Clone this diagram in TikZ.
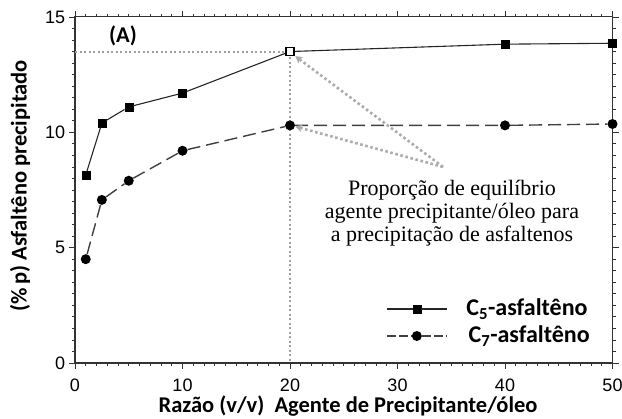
\documentclass[tikz,border=0pt]{standalone}
\usepackage{fontspec}
\setmainfont{Liberation Serif}
\setsansfont{Liberation Sans}
\newfontfamily\calibri{Carlito}
\usetikzlibrary{arrows.meta}
\tikzset{>={Stealth[scale=.8]}}
\tikzset{
  quad/.style={draw=black, fill=black, minimum size=8pt, inner sep=0pt},
  bola/.style={circle, fill=black, minimum size=10pt, inner sep=0pt},
  serie5/.style={black!85, line width=1.1pt},
  serie7/.style={black!75, line width=1.4pt, dash pattern=on 13pt off 6pt},
  guia/.style={gray!75, line width=2pt, dash pattern=on 2pt off 2.5pt},
  seta/.style={gray!65, line width=2.6pt, dash pattern=on 2.6pt off 2.6pt, -{Stealth[length=7pt, width=8pt]}},
  eixo/.style={black!80, line width=1.1pt},
  marca/.style={black!80, line width=.8pt},
  rot/.style={font=\calibri\bfseries\fontsize{22.5}{26}\selectfont, inner sep=1pt},
  num/.style={font=\sffamily\fontsize{18}{20}\selectfont, inner sep=1pt}
}

\begin{document}
\begin{tikzpicture}[x=10.75pt, y=23.07pt]
  \useasboundingbox (-6.977,-2.427) rectangle (50.884,15.735);
  % ticks
  \foreach \i in {0,...,50} {
    \draw[marca] (\i,0) -- (\i,-0.13);
    \draw[marca] (\i,15) -- (\i,15.13);
  }
  \foreach \i in {0,10,...,50} {
    \draw[marca] (\i,0) -- (\i,-0.26);
    \draw[marca] (\i,15) -- (\i,15.26);
    \node[num, inner sep=0pt, text height=12pt, text depth=0pt] (nx\i) at (\i,-0.98) {\i};
  }
  \foreach \j in {0,0.5,...,15} {
    \draw[marca] (0,\j) -- (-0.28,\j);
    \draw[marca] (50,\j) -- (50.28,\j);
  }
  \foreach \j in {0,5,10,15} {
    \draw[marca] (0,\j) -- (-0.56,\j);
    \draw[marca] (50,\j) -- (50.56,\j);
    \node[num, anchor=east] (ny\j) at (-0.8,\j) {\j};
  }
  % frame
  \draw[eixo] (0,0) rectangle (50,15);
  % guide lines
  \coordinate (g0) at (0,13.5);
  \coordinate (g1) at (20,13.5);
  \coordinate (g2) at (20,0);
  \draw[guia] (g0) -- (g1) -- (g2);
  % C5 series
  \node[quad] (c5a) at (1,8.15) {};
  \node[quad] (c5b) at (2.5,10.4) {};
  \node[quad] (c5c) at (5,11.1) {};
  \node[quad] (c5d) at (10,11.7) {};
  \node[quad, fill=white, line width=1.6pt] (c5e) at (20,13.5) {};
  \node[quad] (c5f) at (40,13.82) {};
  \node[quad] (c5g) at (50,13.86) {};
  \draw[serie5] (c5a) -- (c5b) -- (c5c) -- (c5d) -- (c5e) -- (c5f) -- (c5g);
  % C7 series
  \node[bola] (c7a) at (1,4.5) {};
  \node[bola] (c7b) at (2.5,7.07) {};
  \node[bola] (c7c) at (5,7.9) {};
  \node[bola] (c7d) at (10,9.2) {};
  \node[bola] (c7e) at (20,10.3) {};
  \node[bola] (c7f) at (40,10.3) {};
  \node[bola] (c7g) at (50,10.36) {};
  \draw[serie7] (c7a) -- (c7b) -- (c7c) -- (c7d) -- (c7e) -- (c7f) -- (c7g);
  % note and arrows
  \node[align=center, font=\fontsize{22}{23}\selectfont, inner sep=0pt] (nota) at (35.07,6.5)
    {Proporção de equilíbrio\\agente precipitante/óleo para\\a precipitação de asfaltenos};
  \coordinate (fonte) at (34.23,8.5);
  \coordinate (alvo5) at (20.5,13.3);
  \coordinate (alvo7) at (20.5,10.25);
  \draw[seta] (fonte) -- (alvo5);
  \draw[seta] (fonte) -- (alvo7);
  % legend
  \coordinate (l5a) at (29.02,2.34);
  \coordinate (l5b) at (34.6,2.34);
  \node[quad] (l5) at (31.8,2.34) {};
  \draw[serie5] (l5a) -- (l5) -- (l5b);
  \node[rot, anchor=west, font=\calibri\bfseries\fontsize{24}{26}\selectfont] (t5) at (36.3,2.34) {C\textsubscript{5}-asfaltêno};
  \coordinate (l7a) at (29.02,1.17);
  \coordinate (l7b) at (34.6,1.17);
  \node[bola] (l7) at (31.8,1.17) {};
  \draw[serie7, dash pattern=on 9pt off 3pt] (l7a) -- (l7) -- (l7b);
  \node[rot, anchor=west, font=\calibri\bfseries\fontsize{24}{26}\selectfont] (t7) at (36.5,1.17) {C\textsubscript{7}-asfaltêno};
  % labels
  \node[rot] (painel) at (4.47,14.2) {(A)};
  \node[rot, anchor=south, inner sep=0pt, text height=13pt, text depth=0pt] (titx) at (25.4,-2.167) {Razão (v/v)\ \ Agente de Precipitante/óleo};
  \node[rot, rotate=90] (tity) at (-5.12,7.67) {(\%\,p) Asfaltêno precipitado};
\end{tikzpicture}
\end{document}
